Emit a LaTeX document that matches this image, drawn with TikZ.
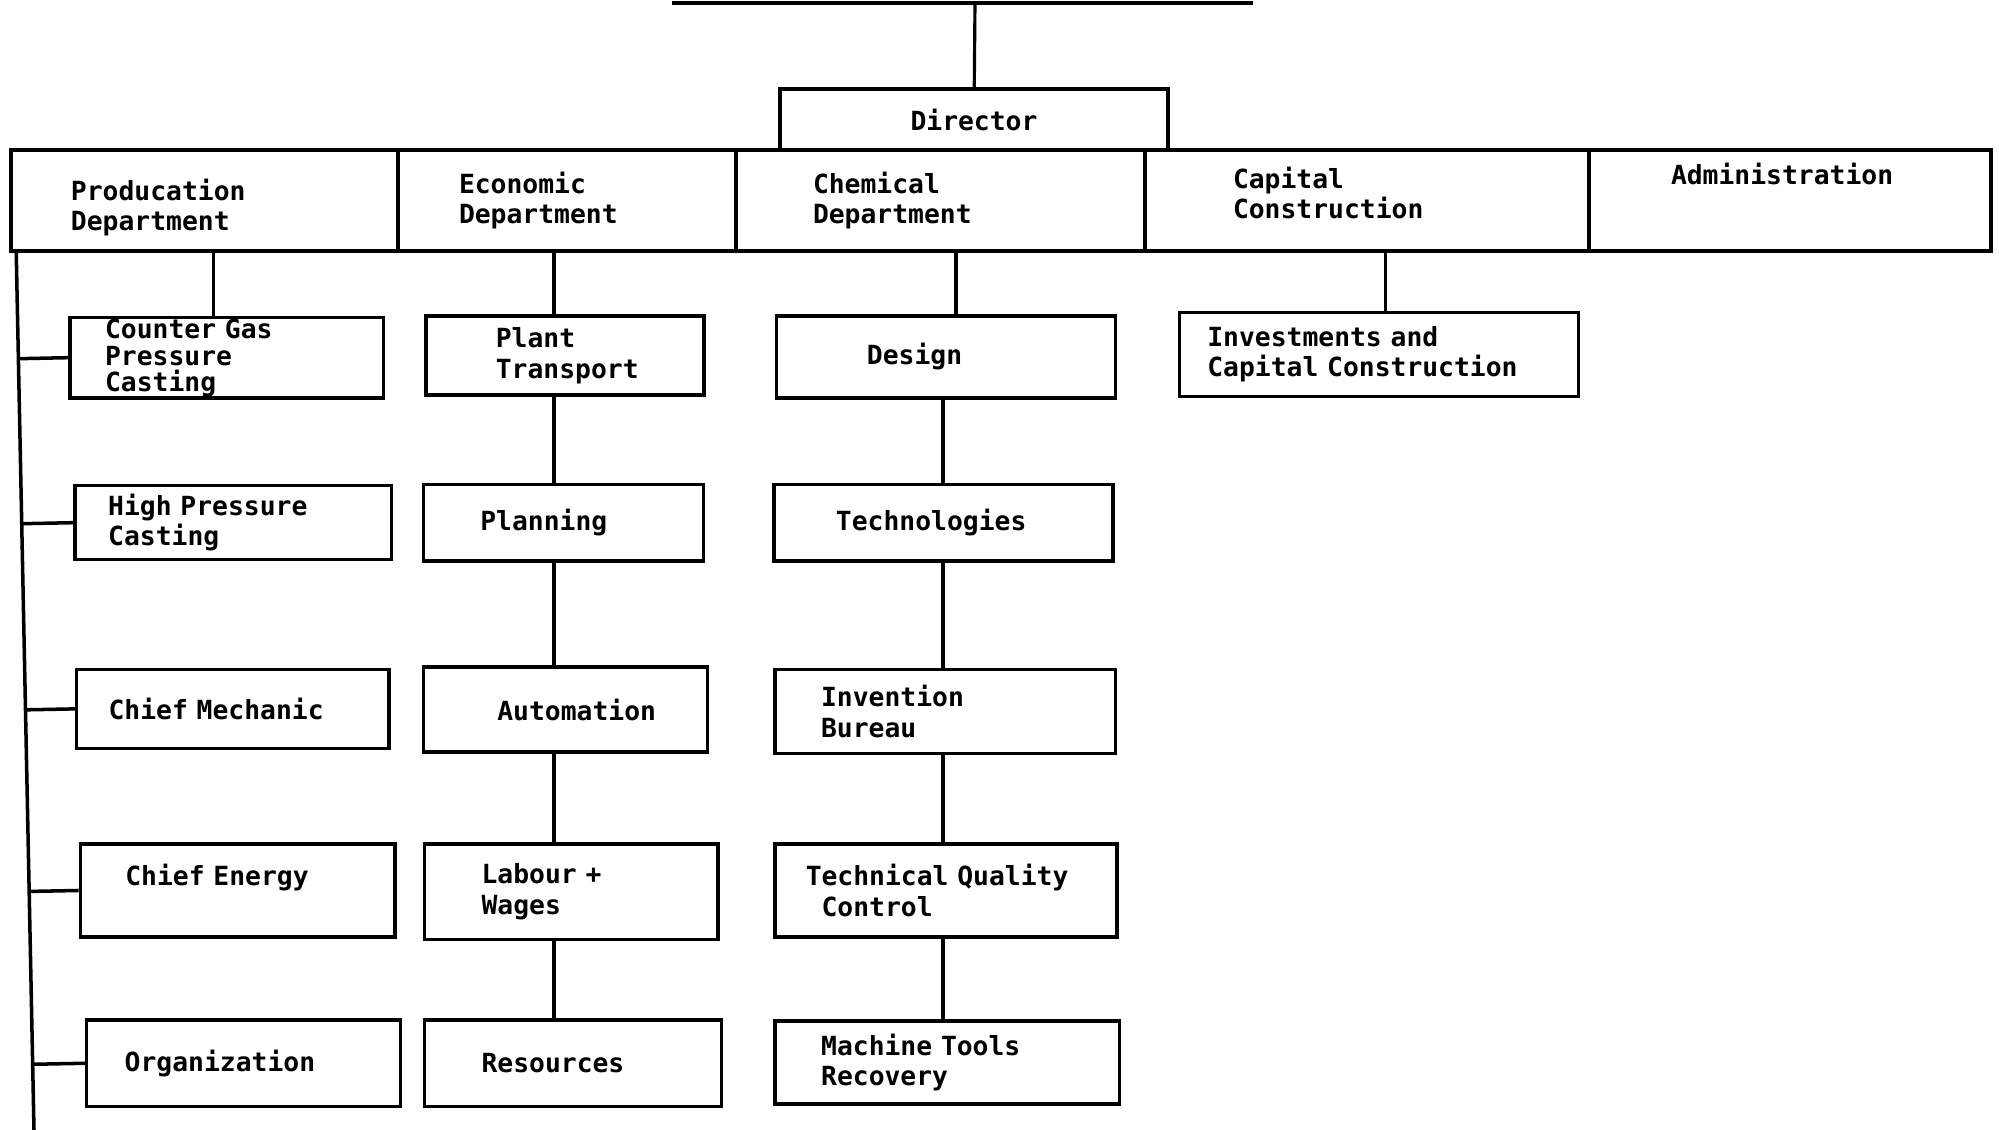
\documentclass[tikz,border=0pt]{standalone}
\usepackage{fontspec}
\newfontfamily\orgfont{DejaVu Sans Mono}
\usetikzlibrary{calc}

\begin{document}
\begin{tikzpicture}[
  every node/.style={font=\orgfont\bfseries\fontsize{7.5}{8.7}\selectfont},
  unit/.code n args={3}{\pgfmathsetmacro\unittw{#1-2*#3}%
    \pgfkeysalso{draw,line width=1pt,align=left,inner ysep=0pt,
      minimum width=#1cm,minimum height=#2cm,inner xsep=#3cm,text width=\unittw cm}},
  head/.style={draw,line width=1pt,minimum width=3.88cm,minimum height=0.61cm},
  link/.style={line width=0.9pt},
]
\useasboundingbox (0,0) rectangle (19.99,-11.30);

% director and the board above
\coordinate (boardl) at (6.72,-0.03);
\coordinate (boardr) at (12.53,-0.03);
\coordinate (board) at (9.75,-0.03);
\node[head] (dir) at (9.74,-1.195) {Director};

% departments
\node[unit={3.87}{1.01}{0.60},text height=10pt] (prod) at (2.045,-2.005) {Producation\\Department};
\node[unit={3.38}{1.01}{0.61}] (econ) at (5.67,-2.005) {Economic\\Department};
\node[unit={4.09}{1.01}{0.77}] (chem) at (9.405,-2.005) {Chemical\\Department};
\node[unit={4.44}{1.01}{0.88}] (capi) at (13.67,-2.005) {Capital\\Construction\\[-4.3pt]\mbox{}};
\node[unit={4.02}{1.01}{0.82}] (admin) at (17.90,-2.005) {Administration\\[6.6pt]\mbox{}};

% production
\node[unit={3.136}{0.803}{0.35}] (cgas) at (2.269,-3.577) {Counter Gas\\[-1pt]Pressure\\[-1.2pt]Casting};
\node[unit={3.162}{0.74}{0.33}] (hpc) at (2.333,-5.227) {High Pressure\\Casting};
\node[unit={3.123}{0.791}{0.32}] (mech) at (2.327,-7.089) {Chief Mechanic};
\node[unit={3.149}{0.93}{0.45}] (energy) at (2.378,-8.905) {Chief Energy\\\mbox{}};
\node[unit={3.136}{0.867}{0.38}] (org) at (2.435,-10.633) {Organization};

% economic
\node[unit={2.779}{0.79}{0.70}] (ptrans) at (5.648,-3.557) {Plant\\Transport};
\node[unit={2.804}{0.765}{0.57}] (plan) at (5.635,-5.228) {Planning};
\node[unit={2.843}{0.854}{0.74}] (auto) at (5.655,-7.095) {Automation};
\node[unit={2.933}{0.956}{0.57}] (labour) at (5.712,-8.918) {Labour +\\Wages};
\node[unit={2.971}{0.867}{0.57}] (res) at (5.731,-10.633) {Resources};

% chemical
\node[unit={3.391}{0.816}{0.905}] (design) at (9.46,-3.57) {Design};
\node[unit={3.391}{0.765}{0.62}] (tech) at (9.435,-5.228) {Technologies};
\node[unit={3.404}{0.842}{0.46}] (inv) at (9.453,-7.114) {Invention\\Bureau};
\node[unit={3.417}{0.93}{0.306}] (tqc) at (9.46,-8.905) {Technical Quality\\\phantom{T}Control};
\node[unit={3.443}{0.829}{0.46}] (mtr) at (9.473,-10.627) {Machine Tools\\Recovery};

% capital construction
\node[unit={3.99}{0.841}{0.28}] (invest) at (13.788,-3.544) {Investments and\\Capital Construction};

% connectors
\draw[line width=1pt] (boardl) -- (boardr);
\draw[link] (board) -- (dir);

\coordinate (spinetop) at ([xshift=0.7mm]prod.south west);
\coordinate (spineend) at (0.34,-11.30);
\draw[line width=1pt] (spinetop) -- (spineend);
\foreach \u in {cgas,hpc,mech,energy,org}
  \draw[line width=1pt] (\u.west) -- ($(spinetop)!(\u.west)!(spineend)$);
\draw[link] ([xshift=-1.3mm]cgas.north) -- ([xshift=-1.3mm]cgas.north |- prod.south);

\coordinate (econline) at (5.54,0);
\draw[link] (econ.south -| econline) -- (ptrans.north -| econline);
\draw[link] (ptrans.south -| econline) -- (plan.north -| econline);
\draw[link] (plan.south -| econline) -- (auto.north -| econline);
\draw[link] (auto.south -| econline) -- (labour.north -| econline);
\draw[link] (labour.south -| econline) -- (res.north -| econline);

\coordinate (chemline) at (9.43,0);
\draw[link] ([xshift=1mm]design.north) -- ([xshift=1mm]design.north |- chem.south);
\draw[link] (design.south -| chemline) -- (tech.north -| chemline);
\draw[link] (tech.south -| chemline) -- (inv.north -| chemline);
\draw[link] (inv.south -| chemline) -- (tqc.north -| chemline);
\draw[link] (tqc.south -| chemline) -- (mtr.north -| chemline);

\draw[link] ([xshift=.7mm]invest.north) -- ([xshift=.7mm]invest.north |- capi.south);
\end{tikzpicture}
\end{document}
